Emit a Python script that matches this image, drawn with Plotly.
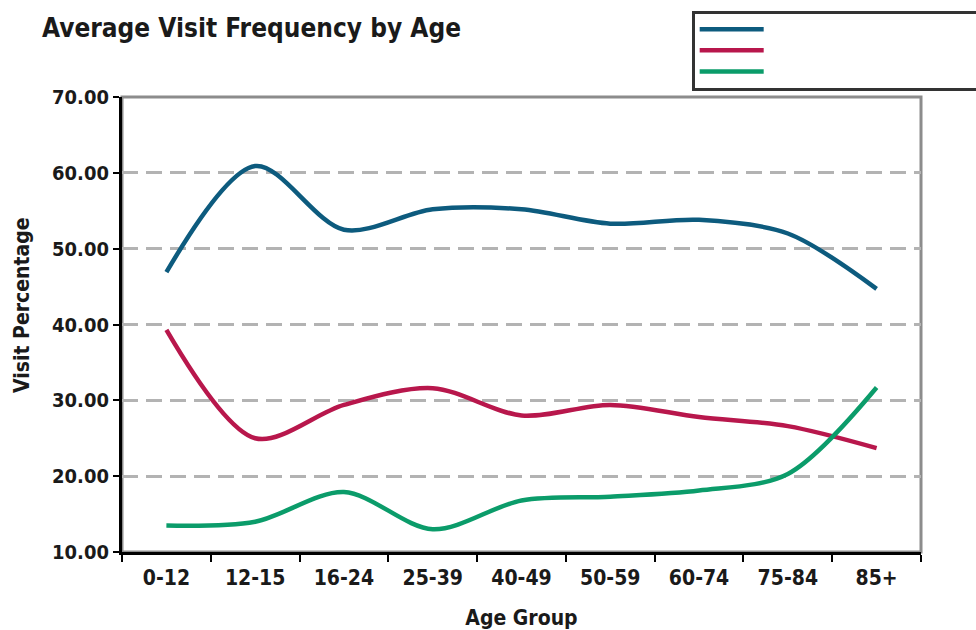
import plotly.graph_objects as go

# Age bands on the category axis
age_groups = ["0-12", "12-15", "16-24", "25-39", "40-49", "50-59", "60-74", "75-84", "85+"]

# Visit percentage per age band, one list per series
visits_blue = [46.9, 60.9, 52.5, 55.2, 55.2, 53.3, 53.8, 52.0, 44.7]
visits_red = [39.3, 25.0, 29.4, 31.6, 28.0, 29.4, 27.8, 26.6, 23.7]
visits_green = [13.5, 14.0, 17.9, 13.0, 16.8, 17.3, 18.1, 20.3, 31.7]

series = [
    (visits_blue, "#0d5b7e"),
    (visits_red, "#b8174c"),
    (visits_green, "#0b9c6a"),
]

FONT = "DejaVu Sans Condensed"
INK = "#1a1a1a"
blank = "\u00a0" * 80

fig = go.Figure()
for values, color in series:
    fig.add_trace(go.Scatter(
        x=age_groups,
        y=values,
        mode="lines",
        name=blank,
        line=dict(color=color, width=4.5, shape="spline", smoothing=0.9),
        hoverinfo="skip",
    ))

# light grey frame on the top and right of the plotting area
fig.add_shape(type="rect", xref="paper", yref="paper", x0=0, x1=1, y0=0, y1=1,
              line=dict(color="#8c8c8c", width=3), layer="below")

# vertical axis caption, placed a little above the plot centre
fig.add_annotation(
    text="Visit Percentage",
    xref="paper", yref="paper",
    x=-100 / 799, y=(552 - 305) / 455,
    xanchor="center", yanchor="middle",
    textangle=-90, showarrow=False,
    font=dict(family=FONT, size=21, color=INK, weight="bold"),
)

fig.update_layout(
    width=976,
    height=630,
    margin=dict(l=122, r=55, t=97, b=78, autoexpand=False),
    paper_bgcolor="white",
    plot_bgcolor="white",
    title=dict(
        text="Average Visit Frequency by Age",
        x=42 / 976, xanchor="left",
        y=1 - 28 / 630, yanchor="middle",
        font=dict(family=FONT, size=26, color=INK, weight="bold"),
    ),
    font=dict(family=FONT, color=INK),
    showlegend=True,
    legend=dict(
        x=0.713, xanchor="left",
        y=1.19, yanchor="top",
        bordercolor="#333333", borderwidth=3,
        bgcolor="white",
        font=dict(family="DejaVu Sans", size=14, color=INK),
        tracegroupgap=0,
        itemwidth=64,
    ),
    xaxis=dict(
        type="category",
        categoryorder="array",
        categoryarray=age_groups,
        range=[-0.5, 8.5],
        tickson="boundaries",
        ticks="outside",
        ticklen=7,
        tickwidth=2,
        tickcolor="black",
        ticklabelstandoff=5,
        showline=True,
        linecolor="black",
        linewidth=3,
        showgrid=False,
        tickfont=dict(family=FONT, size=21, color=INK, weight="bold"),
        title=dict(text="Age Group", font=dict(family=FONT, size=21, color=INK, weight="bold"), standoff=22),
    ),
    yaxis=dict(
        range=[10, 70],
        dtick=10,
        tick0=10,
        tickformat=".2f",
        ticks="outside",
        ticklen=6,
        tickwidth=2,
        tickcolor="black",
        showline=True,
        linecolor="black",
        linewidth=3,
        showgrid=True,
        gridcolor="#b3b3b3",
        gridwidth=3,
        griddash="16px,8px",
        zeroline=False,
        tickfont=dict(family=FONT, size=20, color=INK, weight="bold"),
    ),
)

fig.write_html("out.html")
